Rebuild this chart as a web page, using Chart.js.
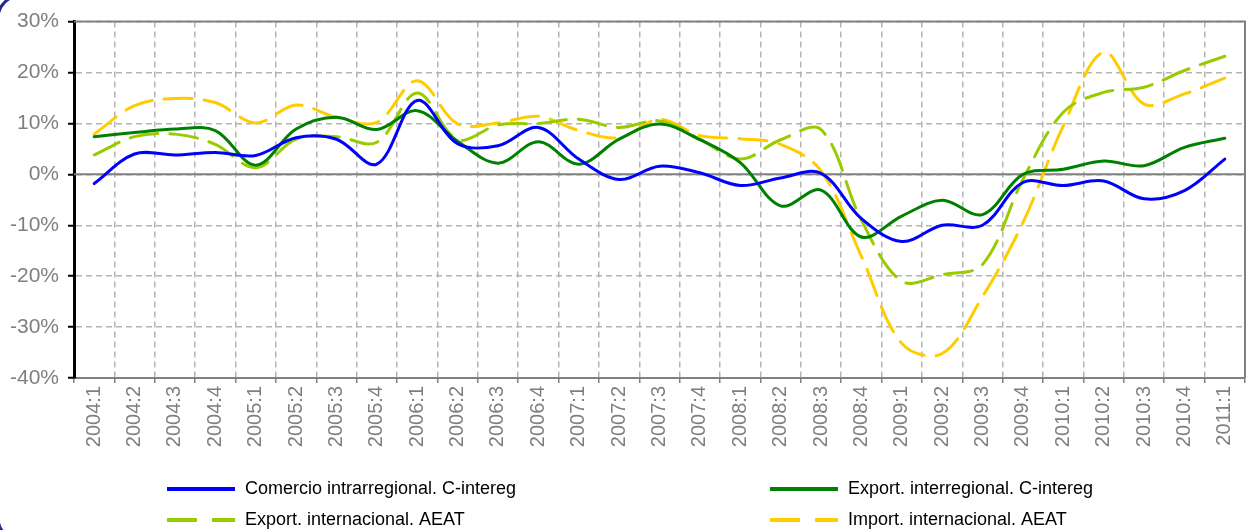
<!DOCTYPE html>
<html>
<head>
<meta charset="utf-8">
<script src="https://cdn.jsdelivr.net/npm/chart.js@4"></script>
<style>
  html, body { margin: 0; padding: 0; background: #fff; }
  #wrap { width: 1247px; height: 530px; position: relative; }
</style>
</head>
<body>
<div id="wrap"><canvas id="chart" width="1247" height="530"></canvas></div>
<script>
// Trimestres 2004:1 – 2011:1
const QUARTERS = [
  '2004:1', '2004:2', '2004:3', '2004:4', '2005:1', '2005:2', '2005:3', '2005:4',
  '2006:1', '2006:2', '2006:3', '2006:4', '2007:1', '2007:2', '2007:3', '2007:4',
  '2008:1', '2008:2', '2008:3', '2008:4', '2009:1', '2009:2', '2009:3', '2009:4',
  '2010:1', '2010:2', '2010:3', '2010:4', '2011:1'
];

const SERIES_NAMES = [
  'Comercio intrarregional. C-intereg',
  'Export. interregional. C-intereg',
  'Export. internacional. AEAT',
  'Import. internacional. AEAT'
];

// tasas de variación interanual (%)
const COMERCIO_INTRA = [-1.8, 4.0, 3.8, 4.3, 3.7, 7.2, 6.9, 2.0, 14.5, 6.0, 5.6, 9.2, 3.0, -1.0, 1.6,
  0.3, -2.2, -0.7, 0.2, -8.7, -13.2, -10.0, -10.0, -1.6, -2.2, -1.3, -4.8, -3.2, 3.0];
const EXPORT_INTER = [7.4, 8.2, 8.9, 8.6, 1.8, 8.9, 11.2, 8.8, 12.5, 6.5, 2.2, 6.4, 2.0, 6.9, 9.9,
  6.8, 2.3, -6.2, -3.1, -12.3, -8.2, -5.1, -7.9, 0.0, 1.0, 2.6, 1.7, 5.3, 7.1];
const EXPORT_INTL = [3.8, 7.4, 7.9, 5.9, 1.3, 6.9, 7.4, 6.3, 16.0, 6.8, 9.7, 10.0, 10.8, 9.2, 10.5,
  6.9, 3.0, 6.8, 8.8, -9.0, -21.0, -19.7, -17.7, -1.0, 12.2, 16.1, 17.1, 20.4, 23.2];
const IMPORT_INTL = [7.9, 13.5, 14.9, 14.1, 10.1, 13.6, 11.2, 10.2, 18.4, 9.9, 10.1, 11.4, 8.6, 7.2, 10.8,
  7.6, 7.0, 5.9, 0.7, -16.1, -33.2, -35.2, -24.0, -9.5, 9.5, 24.0, 13.8, 15.8, 18.9];

const Y_MIN = -40;
const Y_MAX = 30;
const Y_STEP = 10;

const COLORS = {
  blue:   '#0000ff',
  green:  '#008000',
  lime:   '#99cc00',
  yellow: '#ffcc00',
  grid:   '#b4b4b4',
  axis:   '#808080',
  text:   '#7f7f7f',
  frame:  '#1f2a8c',
};

const FONT = "'Liberation Sans', Arial, sans-serif";

// ── Marc, línia del zero i vora del gràfic ─────────────────────────────────
const framePlugin = {
  id: 'frame',
  beforeDatasetsDraw(chart) {
    const { ctx, chartArea: a, scales } = chart;
    const y0 = scales.y.getPixelForValue(0);
    ctx.save();
    ctx.strokeStyle = COLORS.axis;
    ctx.lineWidth = 2;
    ctx.beginPath();
    ctx.moveTo(a.left, y0);
    ctx.lineTo(a.right, y0);
    ctx.moveTo(a.left, a.top);
    ctx.lineTo(a.right, a.top);
    ctx.lineTo(a.right, a.bottom);
    ctx.stroke();
    ctx.restore();
  },
  afterDraw(chart) {
    // cantonada arrodonida del requadre de la diapositiva
    const { ctx } = chart;
    ctx.save();
    ctx.strokeStyle = COLORS.frame;
    ctx.lineWidth = 3;
    ctx.beginPath();
    ctx.roundRect(-2, -4, 1300, 544, 22);
    ctx.stroke();
    ctx.restore();
  }
};

// ── Llegenda en dues columnes ──────────────────────────────────────────────
const legendPlugin = {
  id: 'gridLegend',
  afterDraw(chart) {
    const { ctx } = chart;
    const colX = [167, 770];
    const rowY = [489, 520];
    ctx.save();
    ctx.font = `18px ${FONT}`;
    ctx.textBaseline = 'middle';
    ctx.fillStyle = '#000';
    chart.data.datasets.forEach((ds, i) => {
      const x = colX[i % 2];
      const y = rowY[Math.floor(i / 2)];
      ctx.strokeStyle = ds.borderColor;
      ctx.lineWidth = 4;
      ctx.setLineDash(ds.borderDash && ds.borderDash.length ? [30, 15] : []);
      ctx.beginPath();
      ctx.moveTo(x, y);
      ctx.lineTo(x + 68, y);
      ctx.stroke();
      ctx.setLineDash([]);
      ctx.fillText(ds.label, x + 78, y);
    });
    ctx.restore();
  }
};

function lineDataset(label, data, color, dashed) {
  return {
    label,
    data,
    borderColor: color,
    backgroundColor: color,
    borderWidth: 3,
    borderDash: dashed ? [28, 12] : [],
    borderCapStyle: 'round',
    pointRadius: 0,
    pointHoverRadius: 0,
    tension: 0.35,
    fill: false,
  };
}

new Chart(document.getElementById('chart'), {
  type: 'line',
  data: {
    labels: QUARTERS,
    datasets: [
      lineDataset(SERIES_NAMES[0], COMERCIO_INTRA, COLORS.blue, false),
      lineDataset(SERIES_NAMES[1], EXPORT_INTER, COLORS.green, false),
      lineDataset(SERIES_NAMES[2], EXPORT_INTL, COLORS.lime, true),
      lineDataset(SERIES_NAMES[3], IMPORT_INTL, COLORS.yellow, true),
    ]
  },
  options: {
    responsive: false,
    animation: false,
    devicePixelRatio: 1,
    layout: { padding: { top: 20, right: 2, left: 0, bottom: 0 } },
    plugins: {
      legend: { display: false },
      tooltip: { enabled: false },
    },
    scales: {
      x: {
        offset: true,
        afterFit: scale => {
          scale.height = 152;
          scale.paddingLeft = 0;
          scale.paddingRight = 0;
        },
        grid: {
          offset: true,
          color: COLORS.grid,
          lineWidth: 1.5,
          drawTicks: true,
          tickLength: 5,
          tickColor: COLORS.axis,
          tickWidth: 1.5,
        },
        border: { display: true, color: COLORS.axis, width: 2, dash: [6, 4] },
        ticks: {
          autoSkip: false,
          minRotation: 90,
          maxRotation: 90,
          padding: 3,
          color: COLORS.text,
          font: { family: FONT, size: 20 },
        },
      },
      y: {
        min: Y_MIN,
        max: Y_MAX,
        afterFit: scale => { scale.width = 74; },
        grid: {
          color: COLORS.grid,
          lineWidth: 1.5,
          tickLength: 6,
          tickColor: '#000',
          tickWidth: 2,
        },
        border: { display: true, color: '#000', width: 3, dash: [6, 4] },
        ticks: {
          stepSize: Y_STEP,
          padding: 9,
          color: COLORS.text,
          font: { family: FONT, size: 21 },
          callback: v => v + '%',
        },
      },
    },
  },
  plugins: [framePlugin, legendPlugin],
});
</script>
</body>
</html>
